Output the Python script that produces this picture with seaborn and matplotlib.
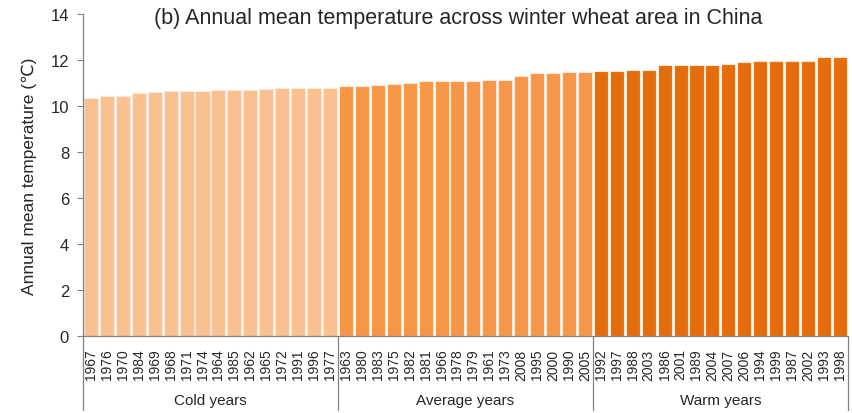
import matplotlib
matplotlib.use("Agg")
import matplotlib.pyplot as plt
import pandas as pd
import seaborn as sns

# years sorted by annual mean temperature, three groups of 16
years = ["1967", "1976", "1970", "1984", "1969", "1968", "1971", "1974",
         "1964", "1985", "1962", "1965", "1972", "1991", "1996", "1977",
         "1963", "1980", "1983", "1975", "1982", "1981", "1966", "1978",
         "1979", "1961", "1973", "2008", "1995", "2000", "1990", "2005",
         "1992", "1997", "1988", "2003", "1986", "2001", "1989", "2004",
         "2007", "2006", "1994", "1999", "1987", "2002", "1993", "1998"]
temps = [10.35, 10.42, 10.45, 10.57, 10.60, 10.63, 10.67, 10.67,
         10.70, 10.70, 10.70, 10.74, 10.78, 10.78, 10.78, 10.80,
         10.88, 10.88, 10.93, 10.97, 11.01, 11.07, 11.07, 11.10,
         11.10, 11.15, 11.15, 11.29, 11.43, 11.43, 11.48, 11.48,
         11.51, 11.51, 11.58, 11.58, 11.80, 11.80, 11.80, 11.80,
         11.84, 11.91, 11.94, 11.94, 11.97, 11.97, 12.11, 12.11]
group_names = ["Cold years", "Average years", "Warm years"]
group_colors = ["#FAC090", "#F79646", "#E46C0A"]
groups = [g for g in group_names for _ in range(16)]

df = pd.DataFrame({"year": years, "temp": temps, "group": groups})

sns.set_style("white")
plt.rcParams["font.family"] = ["Liberation Sans", "DejaVu Sans"]

fig = plt.figure(figsize=(8.53, 4.14), dpi=100)
ax = fig.add_axes([0.0973, 0.186, 0.8967, 0.7778])

sns.barplot(data=df, x="year", y="temp", hue="group", order=years,
            hue_order=group_names, palette=group_colors, dodge=False,
            saturation=1, width=0.88, edgecolor="#FDE9D9", linewidth=0.8,
            legend=False, ax=ax)

ax.set_xlim(-0.5, len(years) - 0.5)
ax.set_ylim(0, 14)
ax.set_yticks(range(0, 15, 2))
ax.tick_params(axis="y", labelsize=12, length=4, width=0.8, pad=6,
               direction="out", left=True, color="#808080")
ax.tick_params(axis="x", labelsize=10, rotation=90, length=0, pad=9)
ax.set_xlabel("")
ax.set_ylabel("Annual mean temperature (\u2103)", fontsize=12.5, labelpad=10)
ax.text(0.49, 0.99, "(b) Annual mean temperature across winter wheat area in China",
        transform=ax.transAxes, ha="center", va="center", fontsize=15.5)

for side in ["top", "right"]:
    ax.spines[side].set_visible(False)
for side in ["left", "bottom"]:
    ax.spines[side].set_color("#808080")
    ax.spines[side].set_linewidth(0.9)

# group separators and labels under the axis
n = len(years)
for k in range(4):
    xf = k * 16 / n
    ax.plot([xf, xf], [0, -0.23], transform=ax.transAxes, color="#808080",
            lw=0.9, clip_on=False)
for k, name in enumerate(group_names):
    ax.text((k * 16 + 8) / n, -0.2, name, transform=ax.transAxes,
            ha="center", va="center", fontsize=11)

fig.savefig("out.png", dpi=100)
